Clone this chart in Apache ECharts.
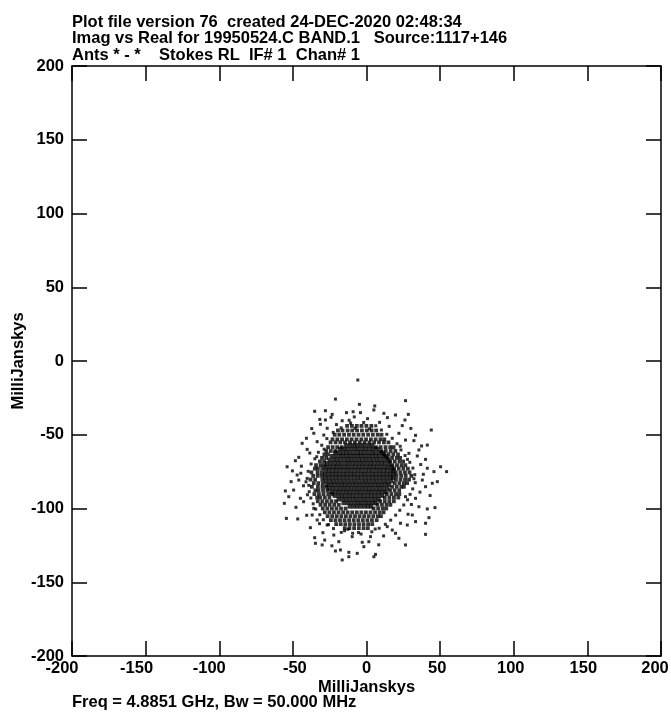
<!DOCTYPE html>
<html><head><meta charset="utf-8">
<script src="https://cdn.jsdelivr.net/npm/echarts@6/dist/echarts.min.js"></script>
<style>html,body{margin:0;padding:0;background:#fff}#c{width:671px;height:716px}</style>
</head><body><div id="c"></div>
<script>
// ---- text ----
const titleLines = [
  'Plot file version 76  created 24-DEC-2020 02:48:34',
  'Imag vs Real for 19950524.C BAND.1   Source:1117+146',
  'Ants * - *    Stokes RL  IF# 1  Chan# 1'
];
const footText = 'Freq = 4.8851 GHz, Bw = 50.000 MHz';
const xAxisName = 'MilliJanskys';
const yAxisName = 'MilliJanskys';
const axisMin = -200, axisMax = 200, axisStep = 50;

// ---- data: [Real, Imag] in mJy ----
// dense core, by row: [Imag, [Real...]]
const coreRows = [
  [-57.2, [-13.8,-11.1,-8.6,-6.3,-3.7,-1.2,1.5,3.9]],
  [-59.6, [-17.9,-15.2,-12.9,-10.4,-7.8,-5.5,-2.9,-0.4,2.2,4.6,7.3]],
  [-62.1, [-21.2,-18.6,-16.1,-13.7,-11.3,-8.7,-6.1,-3.8,-1.3,1.2,3.8,6.1,8.7,11.0]],
  [-64.4, [-23.6,-21.0,-18.4,-16.0,-13.5,-11.1,-8.5,-6.0,-3.6,-1.1,1.5,3.9,6.4,8.8,11.4,13.1]],
  [-66.9, [-25.1,-22.5,-20.1,-17.6,-15.1,-12.6,-10.2,-7.7,-5.2,-2.8,-0.3,2.2,4.6,7.1,9.6,12.1,14.7]],
  [-69.3, [-26.8,-24.3,-21.8,-19.4,-16.9,-14.3,-11.9,-9.4,-7.0,-4.4,-2.0,0.5,3.0,5.4,7.9,10.4,12.8,15.4]],
  [-71.8, [-27.4,-24.9,-22.4,-20.0,-17.5,-15.0,-12.6,-10.0,-7.6,-5.1,-2.6,-0.2,2.3,4.8,7.2,9.7,12.2,14.6,17.1]],
  [-74.2, [-27.9,-25.5,-23.0,-20.6,-18.1,-15.6,-13.1,-10.7,-8.2,-5.7,-3.3,-0.8,1.7,4.1,6.6,9.1,11.6,14.0,16.5,18.2]],
  [-76.7, [-28.2,-25.7,-23.3,-20.8,-18.3,-15.8,-13.4,-10.9,-8.5,-6.0,-3.5,-1.1,1.4,3.9,6.3,8.8,11.3,13.8,16.2,18.4]],
  [-79.1, [-28.0,-25.6,-23.1,-20.6,-18.2,-15.7,-13.2,-10.8,-8.3,-5.8,-3.4,-0.9,1.6,4.0,6.5,9.0,11.4,13.9,16.4,18.1]],
  [-81.6, [-27.5,-25.0,-22.6,-20.1,-17.6,-15.2,-12.7,-10.2,-7.8,-5.3,-2.8,-0.4,2.1,4.6,7.0,9.5,12.0,14.4,16.9]],
  [-84.0, [-26.6,-24.1,-21.7,-19.2,-16.7,-14.3,-11.8,-9.3,-6.9,-4.4,-1.9,0.5,3.0,5.5,7.9,10.4,12.9,15.3]],
  [-86.5, [-25.3,-22.8,-20.4,-17.9,-15.4,-13.0,-10.5,-8.0,-5.6,-3.1,-0.6,1.8,4.3,6.8,9.2,11.7,14.2]],
  [-88.9, [-23.7,-21.2,-18.8,-16.3,-13.8,-11.4,-8.9,-6.4,-4.0,-1.5,1.0,3.4,5.9,8.4,10.8,13.0]],
  [-91.4, [-21.6,-19.1,-16.7,-14.2,-11.7,-9.3,-6.8,-4.3,-1.9,0.6,3.1,5.5,8.0,10.6]],
  [-93.8, [-18.9,-16.4,-14.0,-11.5,-9.0,-6.6,-4.1,-1.6,0.8,3.3,5.8,8.2]],
  [-96.3, [-15.6,-13.1,-10.7,-8.2,-5.7,-3.3,-0.8,1.7,4.1,6.2]],
  [-98.7, [-11.4,-8.9,-6.5,-4.0,-1.5,0.9,3.2]]
];
// speckled ring round the core, by row: [Imag, [Real...]]
const ringRows = [
  [-44.0, [-13.2,-9.9,-6.6,-3.4,-0.1,3.3]],
  [-47.1, [-19.4,-16.3,-12.8,-9.7,-6.4,-3.1,0.2,3.5,6.6]],
  [-50.0, [-21.6,-18.5,-15.2,-11.9,-8.7,-5.4,-2.2,1.1,4.3,7.6,10.2]],
  [-53.1, [-23.1,-19.8,-16.6,-13.3,-10.1,-6.8,-3.5,-0.3,3.0,6.2,9.5,12.1]],
  [-55.2, [-24.4,-21.0,-17.8,-14.6,-11.2,-7.9,-4.6,-1.3,2.0,5.2,8.5,11.8,14.9]],
  [-58.4, [-26.1,-23.0,-19.9,-16.8,6.4,9.6,12.9,16.1,18.4]],
  [-61.0, [-27.3,-24.2,-21.1,9.9,13.1,16.4,19.6]],
  [-63.3, [-28.6,-26.2,11.9,15.0,18.2,21.4]],
  [-65.7, [-30.2,-27.4,14.3,17.4,20.6,22.8]],
  [-68.1, [-31.6,-28.8,16.1,19.2,22.4,24.9]],
  [-70.6, [-34.3,-31.2,-28.9,17.6,20.7,23.8,26.4]],
  [-73.0, [-35.1,-33.0,-30.1,18.8,21.9,25.0,28.1]],
  [-75.5, [-37.4,-33.2,-30.4,19.9,23.0,26.1,29.2]],
  [-77.9, [-36.2,-33.1,-30.3,20.4,23.5,26.6,30.4]],
  [-80.4, [-38.0,-34.9,-30.0,20.0,23.1,26.2,28.9]],
  [-82.8, [-35.8,-32.7,-29.6,19.2,22.3,25.4,27.6]],
  [-85.3, [-37.1,-33.0,-29.9,-27.4,17.4,20.5,23.6,25.4]],
  [-87.7, [-34.7,-32.6,-29.5,-26.6,16.0,19.1,22.2]],
  [-90.2, [-35.4,-32.3,-29.2,-26.0,-23.4,13.8,16.9,20.0,22.3]],
  [-92.6, [-33.5,-31.4,-28.3,-25.2,12.4,15.5,18.6,21.6]],
  [-95.1, [-33.1,-30.0,-26.9,-23.8,-20.7,9.3,12.4,15.5,18.6]],
  [-97.5, [-31.2,-28.1,-25.0,-21.9,-18.8,7.4,10.5,13.6,16.2]],
  [-100.0, [-29.7,-26.6,-23.5,-20.4,-17.3,-14.2,4.8,7.9,11.0,13.4]],
  [-102.6, [-28.3,-25.2,-22.1,-19.0,-15.9,-12.8,-9.7,-6.6,-3.5,-0.4,2.7,5.8,8.9,11.6]],
  [-105.2, [-26.4,-23.3,-20.2,-17.1,-14.0,-10.9,-7.8,-4.7,-1.6,1.5,4.6,7.7,9.8]],
  [-107.9, [-24.2,-21.1,-18.0,-14.9,-11.8,-8.7,-5.6,-2.5,0.6,3.7,6.9]],
  [-110.6, [-20.6,-17.5,-14.4,-11.3,-8.2,-5.1,-2.0,1.1,3.9]],
  [-113.3, [-14.8,-11.6,-8.4,-5.2,-2.0,0.9]]
];
// halo just outside the ring [Real, Imag]
const haloPoints = [
  [-17.2,-45.3],[-10.8,-42.1],[-1.9,-41.7],[6.3,-43.9],[10.1,-46.8],[-22.6,-48.4],[13.8,-49.7],[-26.9,-52.6],[17.5,-52.4],
  [-7.7,-45.6],[2.1,-46.0],[-30.4,-57.1],[-32.7,-61.9],[-35.1,-66.3],[-37.6,-69.8],[-28.8,-59.8],[-33.8,-64.9],
  [20.7,-56.1],[23.4,-60.3],[26.2,-64.1],[29.4,-68.7],[31.5,-72.6],[22.9,-57.8],[27.8,-66.7],
  [-39.6,-74.8],[-40.3,-79.6],[-39.2,-84.3],[-38.9,-88.6],[-37.8,-92.9],[-41.1,-81.9],
  [32.8,-77.1],[33.1,-82.5],[31.4,-86.7],[29.6,-90.4],[27.9,-94.1],[32.2,-79.8],
  [-36.2,-96.8],[-34.5,-100.4],[-31.7,-104.2],[-29.3,-107.6],[-25.8,-110.9],[-22.4,-113.6],
  [25.3,-97.6],[22.6,-101.2],[19.8,-104.5],[16.4,-107.9],[12.8,-110.7],[8.6,-113.4],
  [-17.1,-116.2],[-9.4,-116.8],[-3.7,-117.3],[3.6,-115.8],[-12.6,-114.1],[5.9,-113.9]
];
// scattered outer points [Real, Imag]
const outerPoints = [
  [-5.9,-12.9],[-21.1,-25.8],[-4.8,-29.4],[-35.2,-34.1],[-27.9,-33.7],[-23.3,-36.2],[-13.6,-35],[-9.1,-34.4],[-4.1,-35],
  [-31.7,-39.6],[-27.9,-40],[-31.3,-42.9],[-16.5,-40.5],[-35.8,-49],[-40.8,-52.4],[-43.7,-55.8],[-40.3,-59.9],[-46,-65.3],
  [-48.3,-67.6],[-33.5,-54.7],[-26.7,-45.6],[-29,-50.2],
  [26.5,-26.9],[19.7,-36.6],[28.4,-36.2],[26.1,-40],[24.3,-43.8],[5.6,-30.5],[5,-33.2],[11.8,-35.5],[44,-46.8],[33.3,-50.4],
  [41.3,-57],[32.2,-54],[35.6,-60.3],[40.1,-66.7],[34.5,-64.4],[28.8,-62.6],[26.5,-53.6],[22,-49],
  [-54.4,-106.7],[-46.7,-107.1],[-55.1,-88.1],[-55.8,-96.5],[-52.8,-92],[-51.2,-81.8],[-53.9,-71.7],[-47.1,-77.3],[-46,-80.7],
  [-38.1,-113],[-35.2,-119.8],[-34.7,-123.6],[-30.1,-124.7],[-28.4,-121.4],[-21.1,-128.8],[-17.7,-128.1],[-16.5,-134.9],
  [-12,-129.7],[-12,-132.7],[-6.3,-130.4],[-22.2,-118],[-18.8,-122.5],[-9.7,-119.1],[-2.9,-122.9],[-1.8,-125.9],[-44.9,-93.1],
  [-42.7,-95.4],[-35.8,-99.9],[-36.9,-104.4],[-33.5,-107.8],[-26.7,-111.2],[-49.5,-87.5],
  [54.4,-75],[50.3,-71.7],[41.3,-72.7],[45.8,-75],[48.1,-81.8],[44.7,-82.9],[40.1,-85.2],[37.9,-80.7],[46.5,-99.4],[41.3,-100.3],
  [42.4,-106.2],[40.1,-110],[33.3,-108.9],[40.1,-117.5],[26.5,-124.7],[22,-120.2],[19.7,-116.8],[6.1,-131.1],[5,-132.7],
  [27.7,-111.2],[23.1,-110],[31.1,-104.4],[35.6,-98.8],[33.3,-93.1],[26.5,-92],[17.5,-114.6],[14.1,-112.3],[2.7,-119.1],[1.6,-122.5],
  [-38.5,-62.4],[-44.2,-71.3],[-42.8,-84.6],[-40.1,-90.7],[-44.6,-76.1],[-37.2,-45.8],[-20.4,-43.1],[-11.8,-40.2],[0.7,-39.1],
  [8.9,-41.6],[15.4,-44.3],[30.1,-45.7],[36.8,-70.2],[38.6,-76.8],[36.3,-88.9],[30.5,-97.3],[28.2,-103.9],[11.6,-118.6],
  [-5.4,-116.3],[-14.9,-115.1],[-29.6,-116.4],[-40.6,-104.6],[-47.9,-99.2],[-50.3,-74.5],[-24.1,-38.2],[-8.3,-37.9],[14.2,-38.4],
  [37.4,-57.6],[43.2,-91.2],[-31.9,-110.3],[8.3,-124.6],[-23.5,-125.3]
];
// horizontal nudges of the bottom tick labels, in px (negative = left)
const xLabelNudge = {'-200': -10, '-150': -9, '-100': -10, '-50': 2, '0': 0, '50': -3, '100': -3, '150': -4, '200': -6};

// ---- build ----
function rowsToPoints(rows){
  const out = [];
  rows.forEach(function(r){ r[1].forEach(function(x){ out.push([x, r[0]]); }); });
  return out;
}
const corePoints = rowsToPoints(coreRows);
const ringPoints = rowsToPoints(ringRows);

const FONT = '"Liberation Sans", Arial, Helvetica, sans-serif';
const FS = 16.5;
const chart = echarts.init(document.getElementById('c'), null, {renderer: 'canvas'});

const lineStyle = {color: '#000', width: 1.5};
const rich = {};
Object.keys(xLabelNudge).forEach(function(k, i){
  const s = xLabelNudge[k];
  rich['n' + i] = {fontFamily: FONT, fontWeight: 'bold', fontSize: FS, color: '#000',
    padding: s < 0 ? [0, -2 * s, 0, 0] : [0, 0, 0, 2 * s]};
});
function xLabelFmt(v){
  const keys = Object.keys(xLabelNudge);
  const i = keys.indexOf(String(v));
  return i >= 0 ? '{n' + i + '|' + v + '}' : String(v);
}
function mkX(pos, showLabel){
  return {
    type: 'value', position: pos, min: axisMin, max: axisMax, interval: axisStep,
    name: showLabel ? xAxisName : '', nameLocation: 'middle', nameGap: 23, nameMoveOverlap: false,
    nameTextStyle: {fontFamily: FONT, fontWeight: 'bold', fontSize: FS, color: '#000'},
    axisLine: {show: true, onZero: false, lineStyle: lineStyle},
    axisTick: {show: true, inside: true, length: 15, lineStyle: lineStyle},
    axisLabel: {show: showLabel, margin: 4, color: '#000', fontFamily: FONT, fontWeight: 'bold', fontSize: FS,
      formatter: xLabelFmt, rich: rich},
    splitLine: {show: false}
  };
}
function mkY(pos, showLabel){
  return {
    type: 'value', position: pos, min: axisMin, max: axisMax, interval: axisStep,
    name: showLabel ? yAxisName : '', nameLocation: 'middle', nameGap: 45, nameRotate: 90, nameMoveOverlap: false,
    nameTextStyle: {fontFamily: FONT, fontWeight: 'bold', fontSize: FS, color: '#000'},
    axisLine: {show: true, onZero: false, lineStyle: lineStyle},
    axisTick: {show: true, inside: true, length: 15, lineStyle: lineStyle},
    axisLabel: {show: showLabel, margin: 8, color: '#000', fontFamily: FONT, fontWeight: 'bold', fontSize: FS},
    splitLine: {show: false}
  };
}

const titleGraphics = titleLines.map(function(t, i){
  return {type: 'text', left: 72, top: 13.5 + i * 16.7,
    style: {text: t, fill: '#000', font: 'bold ' + FS + 'px ' + FONT}};
});
titleGraphics.push({type: 'text', left: 72, top: 694,
  style: {text: footText, fill: '#000', font: 'bold ' + FS + 'px ' + FONT}});

function dots(data, size){
  return {type: 'scatter', xAxisIndex: 0, yAxisIndex: 0, data: data, symbol: 'rect', symbolSize: size,
    itemStyle: {color: '#000'}, silent: true};
}

chart.setOption({
  animation: false,
  backgroundColor: '#fff',
  grid: {left: 72, right: 10, top: 66, bottom: 60, containLabel: false, outerBoundsMode: 'none'},
  xAxis: [mkX('bottom', true), mkX('top', false)],
  yAxis: [mkY('left', true), mkY('right', false)],
  graphic: titleGraphics,
  series: [
    dots(corePoints, 4.2),
    dots(ringPoints, 3.8),
    dots(haloPoints, 3),
    dots(outerPoints, 3)
  ]
});
</script></body></html>
